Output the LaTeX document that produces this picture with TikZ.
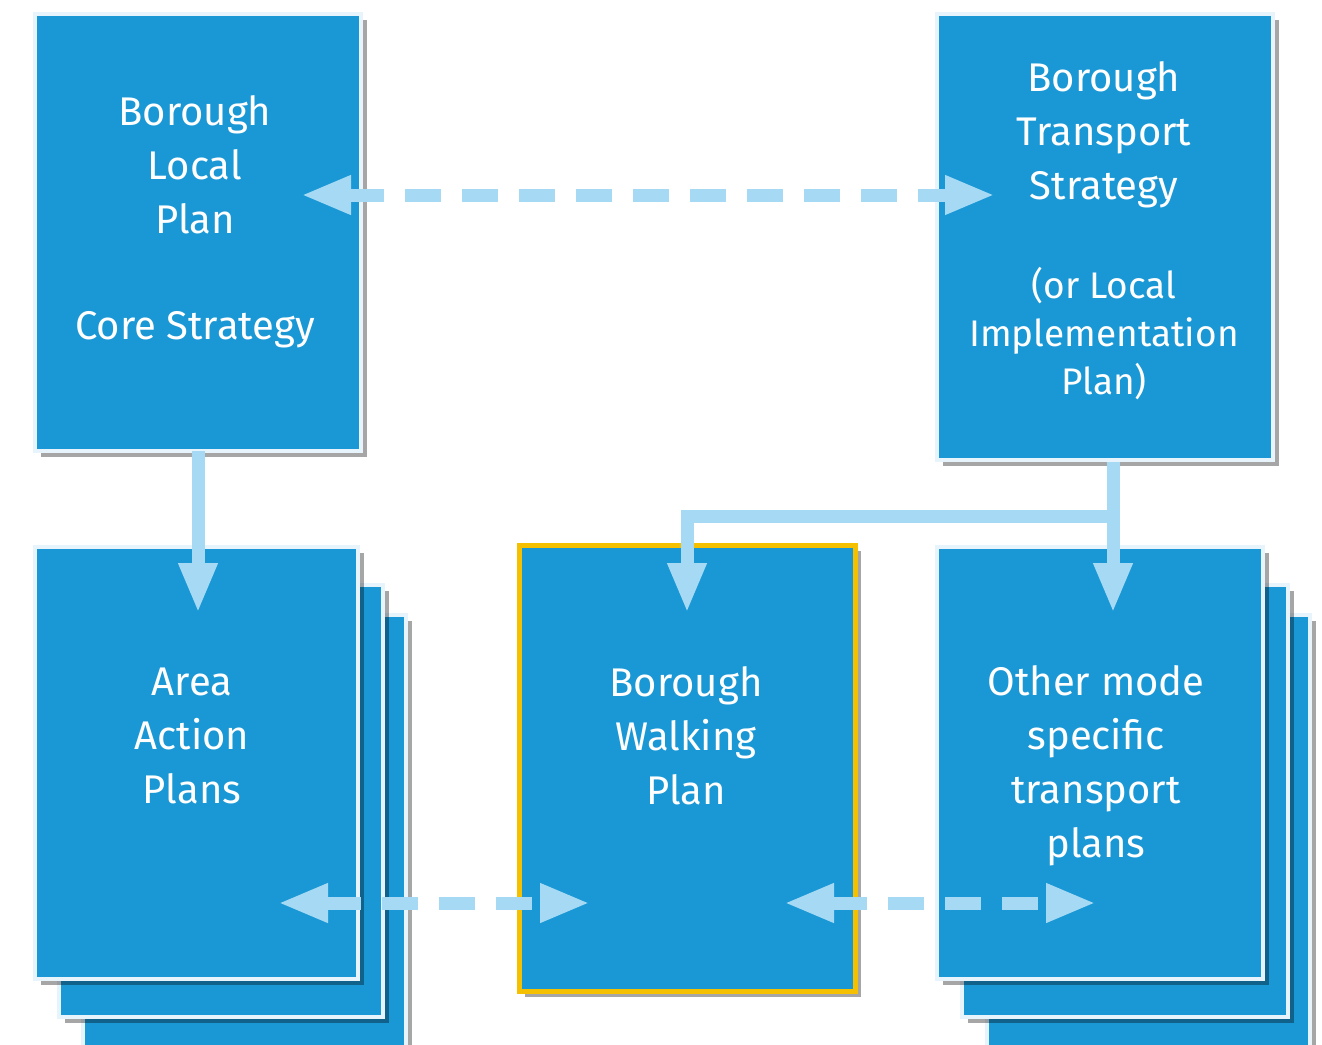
\documentclass[tikz,border=0pt]{standalone}
\usepackage{fontspec}
\setmainfont{Fira Sans}
\usetikzlibrary{arrows.meta,shadows}

\definecolor{boxblue}{HTML}{1A98D5}
\definecolor{boxedge}{HTML}{E8F4FB}
\definecolor{flowblue}{HTML}{A6DAF4}
\definecolor{walkyellow}{HTML}{F5C000}

\begin{document}
\begin{tikzpicture}[x=1pt,y=-1pt,
  box/.style={rectangle, draw=boxedge, line width=4pt, fill=boxblue, inner sep=0pt, outer sep=0pt,
    drop shadow={shadow xshift=6pt, shadow yshift=-6pt, opacity=.35, fill=black}},
  walkbox/.style={box, draw=walkyellow, line width=5pt},
  boxtext/.style={text=white, align=center, font=\fontsize{40}{54}\selectfont},
  flow/.style={draw=flowblue, line width=13pt, -{Triangle[length=50pt,width=36pt]}},
  dflow/.style={flow, {Triangle[length=50pt,width=36pt]}-{Triangle[length=50pt,width=36pt]},
    dash pattern=on 36pt off 21pt}]
\useasboundingbox (0,0) rectangle (1322,1044);
\fill[white] (0,0) rectangle (1322,1044);
\clip (0,0) rectangle (1322,1044);

% top row
\node[box, minimum width=326pt, minimum height=437pt] (blp) at (198,232.5) {};
\node[box, minimum width=336pt, minimum height=446pt] (bts) at (1105,237) {};

% stacks and walking plan
\node[box, minimum width=323pt, minimum height=463pt] (aap3) at (244.5,846.5) {};
\node[box, minimum width=324pt, minimum height=432pt] (aap2) at (221,801) {};
\node[box, minimum width=323pt, minimum height=432pt] (aap) at (196.5,763) {};
\node[walkbox, minimum width=336pt, minimum height=446pt] (bwp) at (687,768) {};
\node[box, minimum width=323pt, minimum height=463pt] (omp3) at (1148.5,846.5) {};
\node[box, minimum width=326pt, minimum height=432pt] (omp2) at (1125,801) {};
\node[box, minimum width=326pt, minimum height=432pt] (omp) at (1100,763) {};

% labels
\node[boxtext] (blptext) at (195,222) {Borough\\Local\\Plan\\[52pt]Core Strategy};
\node[boxtext] (btstop) at (1104,135) {Borough\\Transport\\Strategy};
\node[boxtext, font=\fontsize{37}{48}\selectfont] (btsbottom) at (1104,334) {(or Local\\Implementation\\Plan)};
\node[boxtext] (aaptext) at (192,736) {Area\\Action\\Plans};
\node[boxtext] (bwptext) at (686,736) {Borough\\Walking\\Plan};
\node[boxtext] (omptext) at (1096,766) {Other mode\\specific\\transport\\plans};

% connectors
\coordinate (blpin) at (301,195);
\coordinate (btsin) at (995,195);
\coordinate (aapin) at (198,613);
\coordinate (btsout) at (1113,462);
\coordinate (branch) at (1113,516);
\coordinate (bwpin) at (687,613);
\coordinate (ompin) at (1113,613);
\coordinate (aapside) at (278,903);
\coordinate (bwpleft) at (590,903);
\coordinate (bwpright) at (784,903);
\coordinate (ompside) at (1096,903);

\draw[dflow] (blpin) -- (btsin);
\draw[flow] (blp.south) -- (aapin);
\draw[flow] (btsout) -- (ompin);
\draw[flow] (branch) -| (bwpin);
\draw[dflow] (aapside) -- (bwpleft);
\draw[dflow] (bwpright) -- (ompside);
\end{tikzpicture}
\end{document}
